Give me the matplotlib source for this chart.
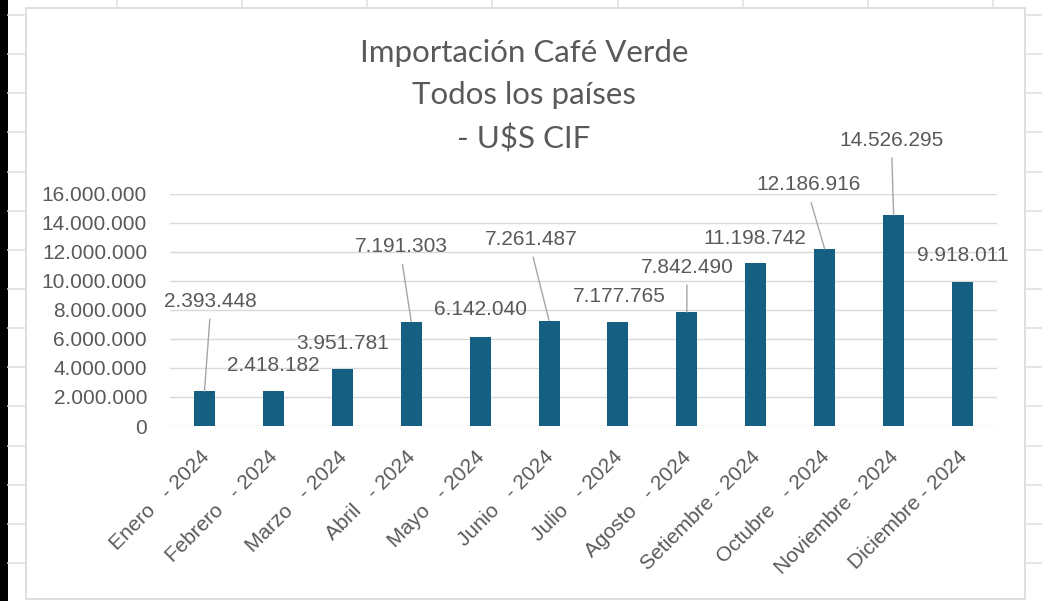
import matplotlib
matplotlib.use("Agg")
import matplotlib.pyplot as plt
from matplotlib.lines import Line2D
from matplotlib.patches import Rectangle
from matplotlib.transforms import ScaledTranslation

# datos del grafico
meses = ["Enero", "Febrero", "Marzo", "Abril", "Mayo", "Junio", "Julio",
         "Agosto", "Setiembre", "Octubre", "Noviembre", "Diciembre"]
anio = "2024"
valores = [2393448, 2418182, 3951781, 7191303, 6142040, 7261487,
           7177765, 7842490, 11198742, 12186916, 14526295, 9918011]
yticks = [0, 2000000, 4000000, 6000000, 8000000, 10000000,
          12000000, 14000000, 16000000]
titulo = ["Importación Café Verde", "Todos los países", "- U$S CIF"]

# etiquetas de categoria (los meses cortos llevan espacios de relleno)
etiquetas = [m + ("  " if len(m) < 9 else "") + " - " + anio for m in meses]

# posicion manual de las etiquetas de datos (pixeles respecto al tope de la barra)
desplaz = [(6, 90), (0, 25), (0, 25), (-10, 75), (0, 27), (-18, 81),
           (1, 25), (0, 45), (-1, 25), (-16, 64), (-2, 75), (0, 26)]
lider = [True, False, False, True, False, True,
         False, True, False, True, True, False]

gris = "#595959"
azul = "#156082"
fuente = "Liberation Sans"

def fmt(v):
    return f"{v:,}".replace(",", ".")

W, H = 1042, 601
fig = plt.figure(figsize=(W / 100, H / 100), dpi=100)
fig.patch.set_facecolor("white")

# decoracion de la hoja de calculo alrededor del grafico
fig.add_artist(Rectangle((0, 0), 8 / W, 1, transform=fig.transFigure,
                         color="black", lw=0))
for k in range(15):
    yy = 1 - (15 + 39.14 * k) / H
    fig.add_artist(Line2D([8 / W, 25 / W], [yy, yy], color="#e0e0e0", lw=1.2))
    fig.add_artist(Line2D([1025 / W, 1], [yy, yy], color="#e0e0e0", lw=1.2))
for k in range(8):
    xx = (116.7 + 125.2 * k) / W
    fig.add_artist(Line2D([xx, xx], [1 - 8 / H, 1], color="#e0e0e0", lw=1.2))
fig.add_artist(Rectangle((25.5 / W, 1 - 599 / H), 999.5 / W, 591 / H,
                         transform=fig.transFigure, fill=False,
                         edgecolor="#d9d9d9", lw=1.2))

ax = fig.add_axes([170 / W, 1 - 426 / H, 827 / W, (426 - 193.6) / H])
x = list(range(len(meses)))
ax.bar(x, valores, width=0.305, color=azul, zorder=3)
ax.set_xlim(-0.5, len(meses) - 0.5)
ax.set_ylim(0, 16000000)

ax.set_yticks(yticks, [fmt(v) for v in yticks])
ax.yaxis.grid(True, color="#d9d9d9", lw=1.0)
ax.set_axisbelow(True)
for s in ax.spines.values():
    s.set_visible(False)
ax.tick_params(axis="y", length=0, pad=16.5, labelsize=15, labelcolor=gris)
for lab in ax.get_yticklabels():
    lab.set_fontfamily(fuente)

ax.set_xticks(x, etiquetas, rotation=45, ha="right", va="baseline",
              rotation_mode="anchor", fontsize=15, color=gris, family=fuente)
ax.tick_params(axis="x", length=0, pad=0)
off = ScaledTranslation(5.5 / 100, -32 / 100, fig.dpi_scale_trans)
for lab in ax.get_xticklabels():
    lab.set_transform(lab.get_transform() + off)

# etiquetas de datos con lineas guia
for i, v in enumerate(valores):
    dx, dy = desplaz[i]
    props = None
    if lider[i]:
        props = dict(arrowstyle="-", color="#a6a6a6", lw=1.0,
                     relpos=(0.5, 0), shrinkA=4, shrinkB=0)
    ax.annotate(fmt(v), xy=(i, v), xytext=(dx, dy), textcoords="offset pixels",
                ha="center", va="center", fontsize=15, color=gris,
                family=fuente, arrowprops=props, zorder=4)

fig.text(524 / W, 1 - 96 / H, "\n".join(titulo), ha="center", va="center",
         fontsize=22.5, color=gris, family="Lato", linespacing=1.62)

fig.savefig("out.png", dpi=100)
